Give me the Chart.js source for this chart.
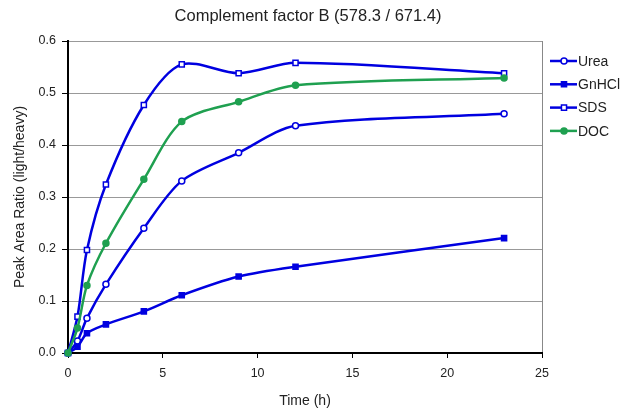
<!DOCTYPE html>
<html>
<head>
<meta charset="utf-8">
<script src="https://cdn.jsdelivr.net/npm/chart.js@4/dist/chart.umd.min.js"></script>
<style>
  html, body { margin: 0; padding: 0; background: #fff; }
  #wrap { width: 626px; height: 416px; }
</style>
</head>
<body>
<div id="wrap"><canvas id="chart" width="626" height="416"></canvas></div>
<script>
const chartTitle = 'Complement factor B (578.3 / 671.4)';
const times = [0, 0.5, 1, 2, 4, 6, 9, 12, 23];
const urea = [0, 0.023, 0.067, 0.132, 0.240, 0.331, 0.385, 0.437, 0.460];
const gnhcl = [0, 0.012, 0.038, 0.055, 0.080, 0.111, 0.147, 0.166, 0.221];
const sds = [0, 0.070, 0.198, 0.324, 0.477, 0.555, 0.538, 0.558, 0.538];
const doc = [0, 0.048, 0.130, 0.211, 0.334, 0.445, 0.483, 0.515, 0.529];

const BLUE = '#0000e0';
const GREEN = '#1fa050';
const FONT = 'Arial, "Liberation Sans", sans-serif';

function toPoints(values) {
  return times.map((t, i) => ({ x: t, y: values[i] }));
}

function series(label, values, color, style, filled, order) {
  return {
    label: label,
    data: toPoints(values),
    borderColor: color,
    backgroundColor: filled ? color : '#fff',
    borderWidth: 2.5,
    pointStyle: style,
    pointRadius: style === 'rect' ? 3.6 : 3,
    pointBorderWidth: 1.5,
    pointBackgroundColor: filled ? color : '#fff',
    pointBorderColor: color,
    tension: 0.3,
    clip: false,
    order: order
  };
}

// title and legend drawn by hand to match the original placement
const decorations = {
  id: 'decorations',
  afterDraw(chart) {
    const ctx = chart.ctx;
    ctx.save();
    ctx.fillStyle = '#222';
    ctx.font = '16.5px ' + FONT;
    ctx.textAlign = 'center';
    ctx.textBaseline = 'middle';
    ctx.fillText(chartTitle, 308, 16);

    ctx.font = '14px ' + FONT;
    ctx.textAlign = 'left';
    chart.data.datasets.forEach((ds, i) => {
      const y = 61 + i * 23.3;
      ctx.strokeStyle = ds.borderColor;
      ctx.lineWidth = 2.5;
      ctx.beginPath();
      ctx.moveTo(550, y);
      ctx.lineTo(577, y);
      ctx.stroke();
      ctx.fillStyle = ds.pointBackgroundColor;
      ctx.strokeStyle = ds.pointBorderColor;
      ctx.lineWidth = ds.pointBorderWidth;
      Chart.helpers.drawPoint(ctx, {
        pointStyle: ds.pointStyle,
        radius: ds.pointRadius,
        borderWidth: ds.pointBorderWidth,
        rotation: 0
      }, 564, y);
      ctx.fillStyle = '#222';
      ctx.fillText(ds.label, 578, y + 1);
    });
    ctx.restore();
  }
};

new Chart(document.getElementById('chart'), {
  type: 'line',
  data: {
    datasets: [
      series('Urea', urea, BLUE, 'circle', false, 3),
      series('GnHCl', gnhcl, BLUE, 'rect', true, 2),
      series('SDS', sds, BLUE, 'rect', false, 1),
      series('DOC', doc, GREEN, 'circle', true, 0)
    ]
  },
  options: {
    responsive: false,
    animation: false,
    layout: { padding: { top: 41, right: 84, left: 0, bottom: 0 } },
    plugins: {
      legend: { display: false },
      title: { display: false },
      tooltip: { enabled: false }
    },
    scales: {
      x: {
        type: 'linear',
        min: 0,
        max: 25,
        afterFit(scale) { scale.height = 63; },
        ticks: { stepSize: 5, color: '#222', padding: 8, font: { family: FONT, size: 12.5 } },
        grid: {
          color: c => c.tick && c.tick.value === 25 ? '#888' : 'rgba(0,0,0,0)',
          tickColor: '#000',
          tickLength: 5
        },
        border: { color: '#000', width: 2 },
        title: {
          display: true,
          text: 'Time (h)',
          color: '#222',
          font: { family: FONT, size: 14 },
          padding: { top: 0, bottom: 6.5 }
        }
      },
      y: {
        min: 0,
        max: 0.6,
        afterFit(scale) { scale.width = 68; },
        ticks: {
          stepSize: 0.1,
          color: '#222',
          padding: 6,
          font: { family: FONT, size: 12.5 },
          callback: v => v.toFixed(1)
        },
        grid: { color: '#999', tickColor: '#000', tickLength: 6 },
        border: { color: '#000', width: 2 },
        title: {
          display: true,
          text: 'Peak Area Ratio (light/heavy)',
          color: '#222',
          font: { family: FONT, size: 14 },
          padding: { top: 12, bottom: 0 }
        }
      }
    }
  },
  plugins: [decorations]
});
</script>
</body>
</html>
